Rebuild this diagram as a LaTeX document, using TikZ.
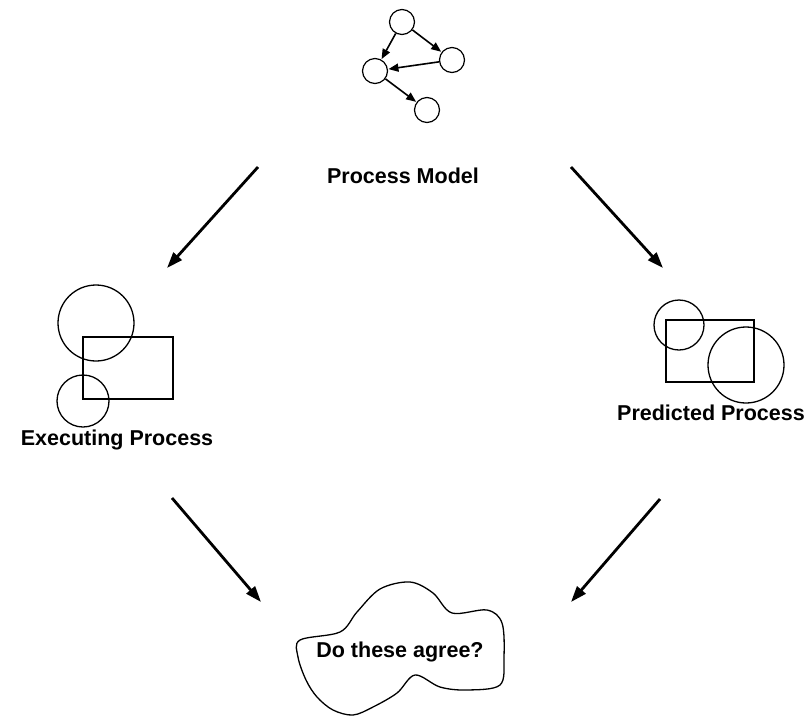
\documentclass[tikz,border=0pt]{standalone}
\usepackage{fontspec}
\setmainfont{Liberation Sans}
\usetikzlibrary{arrows.meta}
\begin{document}
\begin{tikzpicture}[x=1pt,y=-1pt,
  lbl/.style={font=\bfseries\fontsize{21.5}{25}\selectfont, inner sep=0pt},
  gnode/.style={circle, draw, line width=1.2pt, minimum size=25pt, inner sep=0pt},
  garrow/.style={line width=1.6pt, -{Triangle[length=10pt,width=8pt]}, shorten >=0.5pt},
  bigarrow/.style={line width=2.8pt, -{Triangle[length=16pt,width=11pt]}},
  shp/.style={line width=1.3pt}]
\useasboundingbox (0,0) rectangle (808,716);

% small process-model graph
\node[gnode] (ga) at (402,22) {};
\node[gnode] (gb) at (452,60) {};
\node[gnode] (gc) at (375,71) {};
\node[gnode] (gd) at (427,110) {};
\draw[garrow] (ga) -- (gc);
\draw[garrow] (ga) -- (gb);
\draw[garrow] (gb) -- (gc);
\draw[garrow] (gc) -- (gd);

\node[lbl] (pm) at (403,176) {Process Model};

% executing process sketch
\draw[shp] (96,323) circle (38);
\draw[shp] (83,337) rectangle (173,399);
\draw[shp] (83,401) circle (26);
\node[lbl] (ep) at (117,440) {Executing Process};

% predicted process sketch
\draw[shp] (679,325) circle (25);
\draw[shp] (666,320) rectangle (754,382);
\draw[shp] (746,365) circle (38);
\node[lbl] (pp) at (711,413) {Predicted Process};

% comparison blob
\draw[shp] plot[smooth cycle, tension=0.55] coordinates {
  (300,640) (340,632) (357,612) (380,589) (410,582) (433,593) (452,613)
  (487,610) (502,623) (504,657) (500,685) (467,690) (440,687) (415,675)
  (397,693) (373,707) (353,715) (333,710) (317,697) (306,680) (298,657)};
\node[lbl] (ag) at (400,652) {Do these agree?};

% flow arrows
\coordinate (a1s) at (258,167); \coordinate (a1e) at (167,268);
\coordinate (a2s) at (571,167); \coordinate (a2e) at (663,268);
\coordinate (a3s) at (172,498); \coordinate (a3e) at (261,602);
\coordinate (a4s) at (660,499); \coordinate (a4e) at (571,602);
\draw[bigarrow] (a1s) -- (a1e);
\draw[bigarrow] (a2s) -- (a2e);
\draw[bigarrow] (a3s) -- (a3e);
\draw[bigarrow] (a4s) -- (a4e);
\end{tikzpicture}
\end{document}
